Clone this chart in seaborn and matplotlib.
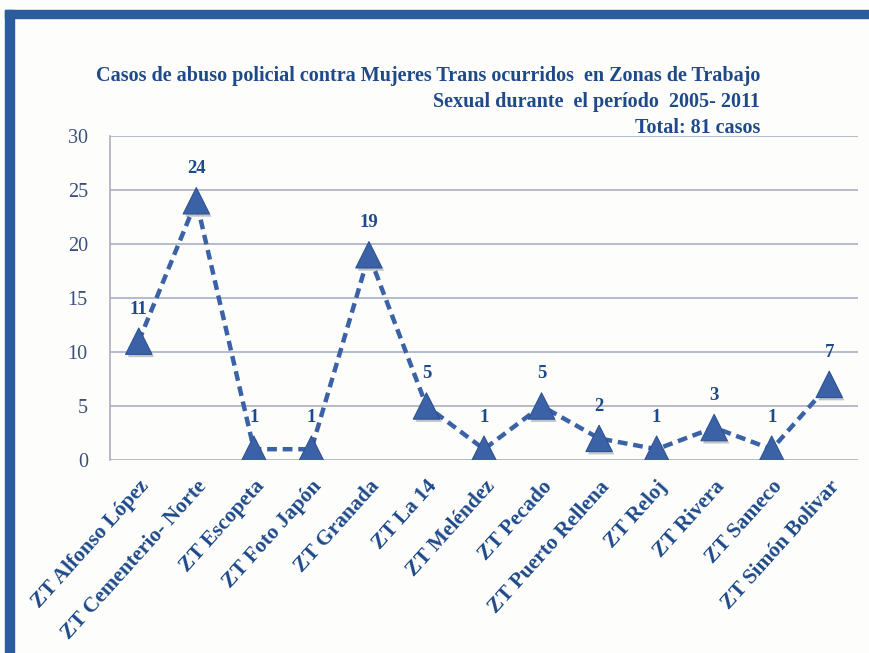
import matplotlib
matplotlib.use("Agg")
import matplotlib.pyplot as plt
import matplotlib.patheffects as pe
import seaborn as sns
import pandas as pd

zonas = ["ZT Alfonso López", "ZT Cementerio- Norte", "ZT Escopeta", "ZT Foto Japón",
         "ZT Granada", "ZT La 14", "ZT Meléndez", "ZT Pecado", "ZT Puerto Rellena",
         "ZT Reloj", "ZT Rivera", "ZT Sameco", "ZT Simón Bolivar"]
casos = [11, 24, 1, 1, 19, 5, 1, 5, 2, 1, 3, 1, 7]
y_ticks = [0, 5, 10, 15, 20, 25, 30]
titulo = ("Casos de abuso policial contra Mujeres Trans ocurridos  en Zonas de Trabajo\n"
          "Sexual durante  el período  2005- 2011\n"
          "Total: 81 casos")

df = pd.DataFrame({"zona": zonas, "casos": casos, "pos": range(len(zonas))})

sns.set_theme(style="white")
plt.rcParams["font.family"] = ["Liberation Serif", "DejaVu Serif"]

azul_linea = "#3B62A6"
azul_texto = "#1F4A8A"
gris_grid = "#A9AFC4"

fig = plt.figure(figsize=(8.7, 6.53), dpi=100)
fig.patch.set_facecolor("#FDFEFB")

# blue frame on the top and left edges
fig.add_artist(plt.Rectangle((5 / 870, 0), 9 / 870, 1 - 10 / 653, transform=fig.transFigure,
                             color="#2A5C9E", zorder=0))
fig.add_artist(plt.Rectangle((5 / 870, 1 - 18 / 653), 1, 8 / 653, transform=fig.transFigure,
                             color="#2A5C9E", zorder=0))

ax = fig.add_axes([110 / 870, 1 - 460 / 653, 748 / 870, 324 / 653])
ax.set_facecolor("none")

sns.lineplot(data=df, x="pos", y="casos", ax=ax, color=azul_linea, linewidth=3.2,
             linestyle=(0, (2.2, 1.3)), zorder=3)
sns.scatterplot(data=df, x="pos", y="casos", ax=ax, marker="^", s=360, color=azul_linea,
                edgecolor="#2E5394", linewidth=0.8, zorder=4,
                path_effects=[pe.SimplePatchShadow(offset=(1.5, -2), alpha=0.25), pe.Normal()])

for x, v in zip(df["pos"], df["casos"]):
    ax.annotate(str(v), (x, v), xytext=(0, 17), textcoords="offset points", ha="center",
                va="bottom", fontsize=13.5, fontweight="bold", color=azul_texto)

ax.set_xlim(-0.5, len(zonas) - 0.5)
ax.set_ylim(0, 30)
ax.set_yticks(y_ticks)
ax.set_yticklabels([str(t) for t in y_ticks], fontsize=14.5, color="#3C4F7A")
ax.set_xticks(df["pos"])
ax.set_xticklabels(zonas, rotation=48, ha="right", rotation_mode="anchor", fontsize=15.5,
                   fontweight="bold", color=azul_texto)
ax.tick_params(axis="x", length=0, pad=12)
ax.tick_params(axis="y", length=0, pad=16)
ax.grid(axis="y", color=gris_grid, linewidth=1.2)
ax.set_axisbelow(True)
ax.set_xlabel("")
ax.set_ylabel("")
for s in ["top", "right", "bottom"]:
    ax.spines[s].set_visible(False)
ax.spines["left"].set_color(gris_grid)
ax.spines["left"].set_linewidth(1.2)

fig.text(760 / 870, 1 - 66 / 653, titulo, ha="right", va="top", fontsize=14.5,
         fontweight="bold", color=azul_texto, linespacing=1.4)

fig.savefig("out.png", dpi=100, facecolor=fig.get_facecolor())
